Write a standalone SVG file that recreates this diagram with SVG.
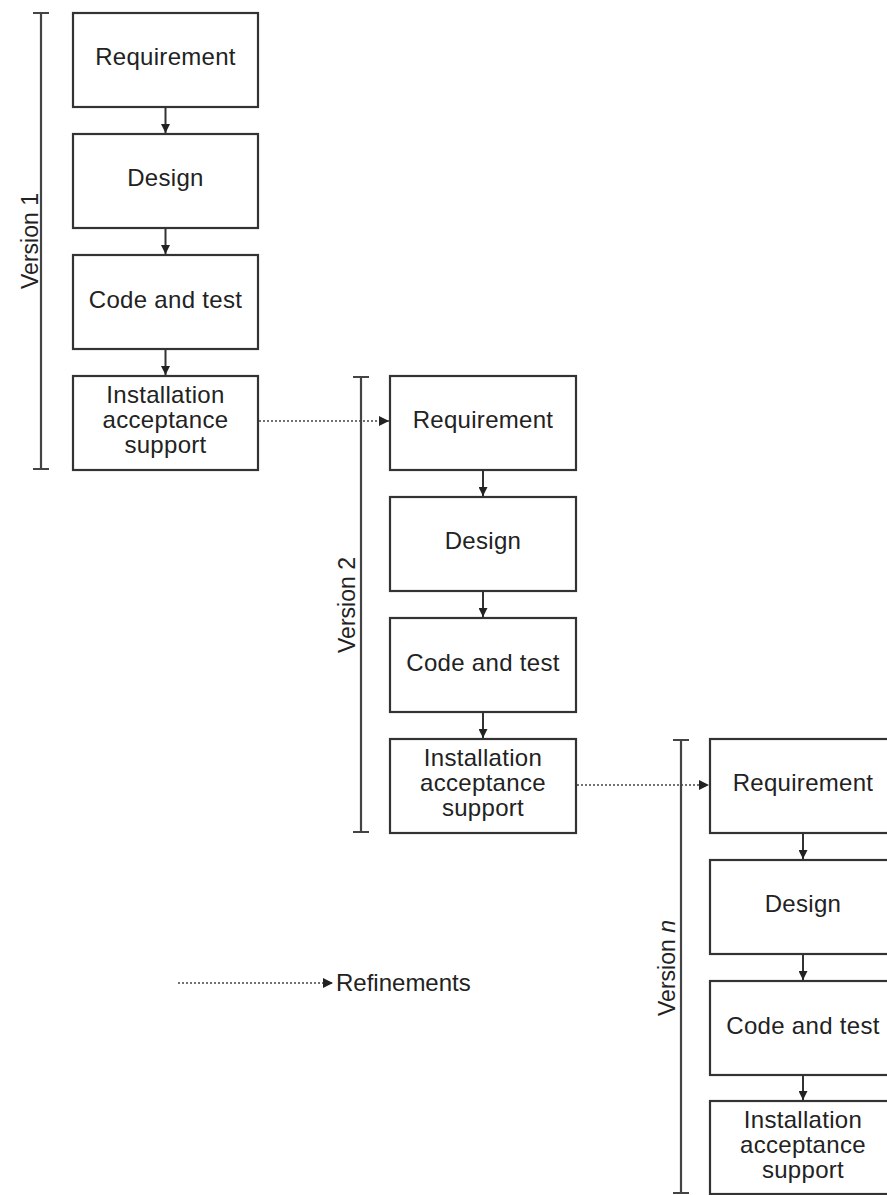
<svg xmlns="http://www.w3.org/2000/svg" width="887" height="1195" viewBox="0 0 887 1195">
<style>
.box{fill:#fff;stroke:#333;stroke-width:2.2}
.t{font-family:"Liberation Sans",Arial,sans-serif;font-size:24px;letter-spacing:0.3px;fill:#222;text-anchor:middle}
.v{font-family:"Liberation Sans",Arial,sans-serif;font-size:23px;fill:#222;text-anchor:middle}
.solid{stroke:#333;stroke-width:2;fill:none}
.dot{stroke:#444;stroke-width:1.6;fill:none;stroke-dasharray:2 2}
.br{stroke:#444;stroke-width:2.2;fill:none}
</style>
<defs>
<marker id="ah" viewBox="0 0 10 10" refX="10" refY="5" markerWidth="9" markerHeight="9" markerUnits="userSpaceOnUse" orient="auto">
<path d="M0,0 L10,5 L0,10 z" fill="#222"/>
</marker>
<marker id="ahd" viewBox="0 0 10 10" refX="10" refY="5" markerWidth="10" markerHeight="10" markerUnits="userSpaceOnUse" orient="auto">
<path d="M0,0 L10,5 L0,10 z" fill="#222"/>
</marker>
</defs>

<g id="v1-req"><rect class="box" x="73" y="13" width="185" height="94"/><text class="t" x="165.5" y="65">Requirement</text></g>
<g id="v1-design"><rect class="box" x="73" y="134" width="185" height="94"/><text class="t" x="165.5" y="186">Design</text></g>
<g id="v1-code"><rect class="box" x="73" y="255" width="185" height="94"/><text class="t" x="165.5" y="308">Code and test</text></g>
<g id="v1-inst"><rect class="box" x="73" y="376" width="185" height="94"/><text class="t" x="165.5" y="403">Installation</text><text class="t" x="165.5" y="428">acceptance</text><text class="t" x="165.5" y="453">support</text></g>

<g id="v2-req"><rect class="box" x="390" y="376" width="186" height="94"/><text class="t" x="483" y="428">Requirement</text></g>
<g id="v2-design"><rect class="box" x="390" y="497" width="186" height="94"/><text class="t" x="483" y="549">Design</text></g>
<g id="v2-code"><rect class="box" x="390" y="618" width="186" height="94"/><text class="t" x="483" y="671">Code and test</text></g>
<g id="v2-inst"><rect class="box" x="390" y="739" width="186" height="94"/><text class="t" x="483" y="766">Installation</text><text class="t" x="483" y="791">acceptance</text><text class="t" x="483" y="816">support</text></g>

<g id="vn-req"><rect class="box" x="710" y="739" width="186" height="94"/><text class="t" x="803" y="791">Requirement</text></g>
<g id="vn-design"><rect class="box" x="710" y="860" width="186" height="94"/><text class="t" x="803" y="912">Design</text></g>
<g id="vn-code"><rect class="box" x="710" y="981" width="186" height="94"/><text class="t" x="803" y="1034">Code and test</text></g>
<g id="vn-inst"><rect class="box" x="710" y="1101" width="186" height="93"/><text class="t" x="803" y="1128">Installation</text><text class="t" x="803" y="1153">acceptance</text><text class="t" x="803" y="1178">support</text></g>

<g id="brackets">
<path class="br" d="M41,13 V469 M33,13 H49 M33,469 H49"/>
<text class="v" transform="translate(38,241) rotate(-90)">Version 1</text>
<path class="br" d="M361,377 V832 M353,377 H369 M353,832 H369"/>
<text class="v" transform="translate(355,605) rotate(-90)">Version 2</text>
<path class="br" d="M681,740 V1194 M673,740 H689 M673,1193 H689"/>
<text class="v" transform="translate(675,968) rotate(-90)">Version <tspan font-style="italic">n</tspan></text>
</g>

<g id="connectors">
<line class="solid" x1="165.5" y1="107" x2="165.5" y2="133" marker-end="url(#ah)"/>
<line class="solid" x1="165.5" y1="228" x2="165.5" y2="254" marker-end="url(#ah)"/>
<line class="solid" x1="165.5" y1="349" x2="165.5" y2="375" marker-end="url(#ah)"/>
<line class="solid" x1="483" y1="470" x2="483" y2="496" marker-end="url(#ah)"/>
<line class="solid" x1="483" y1="591" x2="483" y2="617" marker-end="url(#ah)"/>
<line class="solid" x1="483" y1="712" x2="483" y2="738" marker-end="url(#ah)"/>
<line class="solid" x1="803" y1="833" x2="803" y2="859" marker-end="url(#ah)"/>
<line class="solid" x1="803" y1="954" x2="803" y2="980" marker-end="url(#ah)"/>
<line class="solid" x1="803" y1="1075" x2="803" y2="1100" marker-end="url(#ah)"/>
<line class="dot" x1="259" y1="421" x2="389" y2="421" marker-end="url(#ahd)"/>
<line class="dot" x1="577" y1="785" x2="709" y2="785" marker-end="url(#ahd)"/>
</g>

<g id="legend">
<line class="dot" x1="178" y1="983" x2="333" y2="983" marker-end="url(#ahd)"/>
<text x="336" y="991" font-family="Liberation Sans, Arial, sans-serif" font-size="24" fill="#222">Refinements</text>
</g>
</svg>
